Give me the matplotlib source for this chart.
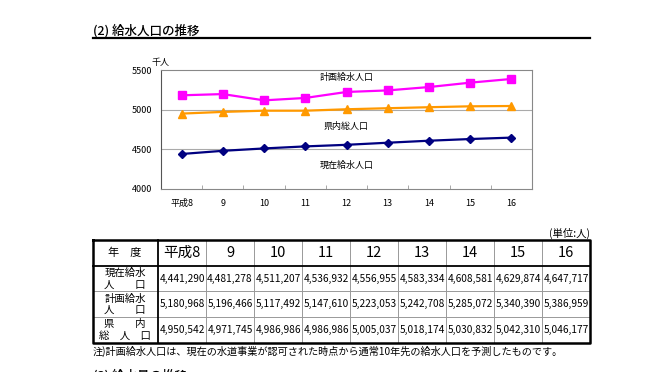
import matplotlib.pyplot as plt

plt.rcParams['font.family'] = ['Noto Sans CJK JP', 'DejaVu Sans']

years = ['平成8', '9', '10', '11', '12', '13', '14', '15', '16']
genzai = [4441290, 4481278, 4511207, 4536932, 4556955, 4583334, 4608581, 4629874, 4647717]
keikaku = [5180968, 5196466, 5117492, 5147610, 5223053, 5242708, 5285072, 5340390, 5386959]
kennai = [4950542, 4971745, 4986986, 4986986, 5005037, 5018174, 5030832, 5042310, 5046177]
row_labels = [('現在給水', '人　　口'), ('計画給水', '人　　口'), ('県　　内', '総　人　口')]
y_ticks = [4000, 4500, 5000, 5500]

W, H = 650, 372
fig = plt.figure(figsize=(W / 100, H / 100), dpi=100)

# page overlay in pixel coords
page = fig.add_axes([0, 0, 1, 1])
page.set_xlim(0, W)
page.set_ylim(H, 0)
page.axis('off')

page.text(93, 35, '(2) 給水人口の推移', fontsize=9, fontweight='medium', va='baseline')
page.plot([93, 590], [37.5, 37.5], color='black', lw=1.6)

# chart
ax = fig.add_axes([161 / W, 1 - 189 / H, (532 - 161) / W, (189 - 70) / H], zorder=2)
x = list(range(len(years)))
ax.plot(x, [v / 1000 for v in keikaku], color='#FF00FF', marker='s', ms=6, lw=1.6)
ax.plot(x, [v / 1000 for v in kennai], color='#FF9900', marker='^', ms=6, lw=1.6)
ax.plot(x, [v / 1000 for v in genzai], color='#000080', marker='D', ms=4.5, lw=1.6)
ax.set_xlim(-0.5, len(years) - 0.5)
ax.set_ylim(4000, 5500)
ax.set_yticks(y_ticks)
ax.set_yticklabels([str(t) for t in y_ticks], fontsize=6.5)
ax.tick_params(axis='y', length=0, pad=6)
ax.set_xticks(x)
ax.set_xticklabels(years, fontsize=6.5)
ax.tick_params(axis='x', length=0, pad=7)
ax.set_xticks([i + 0.5 for i in x[:-1]], minor=True)
ax.tick_params(axis='x', which='minor', direction='in', length=3, color='#999999')
for t in y_ticks[1:-1]:
    ax.axhline(t, color='#aaaaaa', lw=0.8, zorder=0)
for s in ['top', 'right']:
    ax.spines[s].set_color('#888888')
ax.spines['left'].set_color('#555555')
ax.spines['bottom'].set_color('#888888')
ax.text(4, 5410, '計画給水人口', fontsize=6.5, ha='center', va='center')
ax.text(4, 4785, '県内総人口', fontsize=6.5, ha='center', va='center')
ax.text(4, 4300, '現在給水人口', fontsize=6.5, ha='center', va='center')
page.text(160, 62, '千人', fontsize=6.5, ha='center', va='center')

# table
tl, tr, tt, tb = 93, 590, 240, 343
row_y = [240, 266, 291, 317, 343]
col_x = [93] + [158 + 48 * i for i in range(10)]
for yy in row_y[2:4]:
    page.plot([tl, tr], [yy, yy], color='#999999', lw=0.7)
for xx in col_x[2:-1]:
    page.plot([xx, xx], [tt, tb], color='#999999', lw=0.7)
page.plot([tl, tr], [266, 266], color='black', lw=1.3)
page.plot([158, 158], [tt, tb], color='black', lw=1.3)
page.plot([tl, tr, tr, tl, tl], [tt, tt, tb, tb, tt], color='black', lw=1.8)

page.text(125, 253, '年　度', fontsize=8, ha='center', va='center')
for i, yr in enumerate(years):
    cx = (col_x[i + 1] + col_x[i + 2]) / 2
    page.text(cx, 253, yr, fontsize=10.5, ha='center', va='center')
for r, series in enumerate([genzai, keikaku, kennai]):
    cy = (row_y[r + 1] + row_y[r + 2]) / 2
    page.text(125, cy - 5.5, row_labels[r][0], fontsize=7.5, ha='center', va='center')
    page.text(125, cy + 6, row_labels[r][1], fontsize=7.5, ha='center', va='center')
    for i, v in enumerate(series):
        cx = (col_x[i + 1] + col_x[i + 2]) / 2
        page.text(cx, cy, f'{v:,}', fontsize=7.3, ha='center', va='center')

page.text(590, 233, '(単位:人)', fontsize=7.5, ha='right', va='center')
page.text(93, 351, '注)計画給水人口は、現在の水道事業が認可された時点から通常10年先の給水人口を予測したものです。',
          fontsize=7.3, ha='left', va='center')
page.text(93, 376, '(3) 給水量の推移', fontsize=9, fontweight='medium', va='center')

fig.savefig('out.png', dpi=100)
